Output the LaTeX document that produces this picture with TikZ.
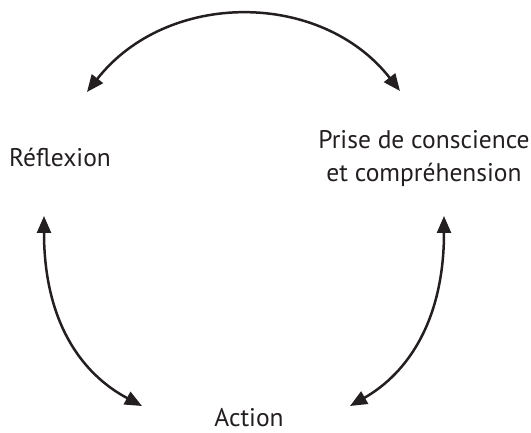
\documentclass[tikz,border=0pt]{standalone}
\usepackage{fontspec}
\setmainfont{PT Sans}
\usetikzlibrary{arrows.meta}
\definecolor{ink}{HTML}{231F20}
\begin{document}
\begin{tikzpicture}[x=1pt,y=-1pt,
  lbl/.style={inner sep=0pt,font=\fontsize{25.5}{30}\selectfont,text=ink},
  link/.style={line width=2.5pt,draw=ink,{Triangle[length=17pt,width=14pt]}-{Triangle[length=17pt,width=14pt]}}]
\useasboundingbox (0,0) rectangle (531,433);
\node[lbl,anchor=base west] (refl) at (9,167) {Réflexion};
\node[lbl,anchor=base] (prise) at (424,149) {Prise de conscience};
\node[lbl,anchor=base] (prise2) at (424,182) {et compréhension};
\node[lbl,anchor=base] (act) at (249,426) {Action};
\coordinate (tl) at (87,92);
\coordinate (tr) at (400,91);
\coordinate (lt) at (44,216);
\coordinate (lb) at (142,406);
\coordinate (rt) at (444,216);
\coordinate (rb) at (350,406);
\draw[link] (tl) .. controls (167,-10) and (321,-10) .. (tr);
\draw[link] (lt) .. controls (44,320) and (80,373) .. (lb);
\draw[link] (rt) .. controls (444,320) and (408,373) .. (rb);
\end{tikzpicture}
\end{document}
